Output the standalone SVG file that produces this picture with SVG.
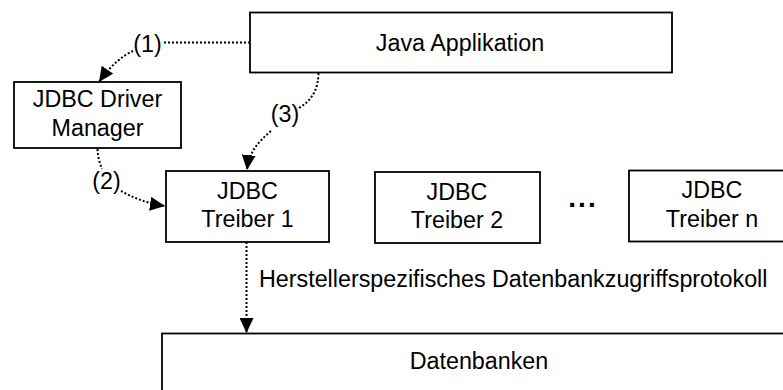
<svg xmlns="http://www.w3.org/2000/svg" width="783" height="390" viewBox="0 0 783 390">
<style>
  .box { fill: #fff; stroke: #000; stroke-width: 1.8; }
  .t { font-family: "Liberation Sans", Arial, sans-serif; font-size: 23.3px; fill: #000; }
  .c { text-anchor: middle; }
  .dot { fill: none; stroke: #000; stroke-width: 2; stroke-dasharray: 2 2; }
</style>
<defs>
  <marker id="arr" viewBox="0 0 15 14" refX="15" refY="7" markerWidth="15" markerHeight="14" orient="auto" markerUnits="userSpaceOnUse">
    <path d="M0,0 L15,7 L0,14 z" fill="#000"/>
  </marker>
</defs>
<rect width="783" height="390" fill="#fff"/>

<g id="java">
  <rect class="box" x="250" y="12.5" width="422" height="60"/>
  <text class="t c" x="460" y="51">Java Applikation</text>
</g>
<g id="drivermanager">
  <rect class="box" x="14" y="82" width="167" height="66"/>
  <text class="t c" x="97.5" y="107">JDBC Driver</text>
  <text class="t c" x="97.5" y="136">Manager</text>
</g>
<g id="treiber1">
  <rect class="box" x="166" y="171" width="163" height="71"/>
  <text class="t c" x="247.5" y="198.5">JDBC</text>
  <text class="t c" x="247.5" y="227">Treiber 1</text>
</g>
<g id="treiber2">
  <rect class="box" x="375" y="172" width="165" height="71"/>
  <text class="t c" x="457" y="199.5">JDBC</text>
  <text class="t c" x="457" y="228">Treiber 2</text>
</g>
<g id="ellipsis">
  <text class="t c" x="583" y="207" style="font-size:28px;font-weight:bold;letter-spacing:2px">...</text>
</g>
<g id="treibern">
  <rect class="box" x="629" y="170.5" width="170" height="71"/>
  <text class="t c" x="712" y="198">JDBC</text>
  <text class="t c" x="712" y="227">Treiber n</text>
</g>
<g id="datenbanken">
  <rect class="box" x="162" y="333.5" width="640" height="70"/>
  <text class="t c" x="479" y="369">Datenbanken</text>
</g>

<g id="connectors">
  <path class="dot" d="M250,42.5 H163"/>
  <path class="dot" d="M133,51 C122,56 110,66 99,82" marker-end="url(#arr)"/>
  <text class="t c" x="147.5" y="52">(1)</text>

  <path class="dot" d="M318.5,73 C318,90 312,100 299,108"/>
  <path class="dot" d="M271,131 C258,142 249,152 247,170" marker-end="url(#arr)"/>
  <text class="t c" x="285" y="122">(3)</text>

  <path class="dot" d="M97.5,149 C98,158 100,164 102,169"/>
  <path class="dot" d="M121,191 C132,197 145,203 165,206" marker-end="url(#arr)"/>
  <text class="t c" x="106.5" y="189">(2)</text>

  <path class="dot" d="M246.5,242 V333" marker-end="url(#arr)"/>
  <text class="t" x="259" y="287">Herstellerspezifisches Datenbankzugriffsprotokoll</text>
</g>
</svg>
